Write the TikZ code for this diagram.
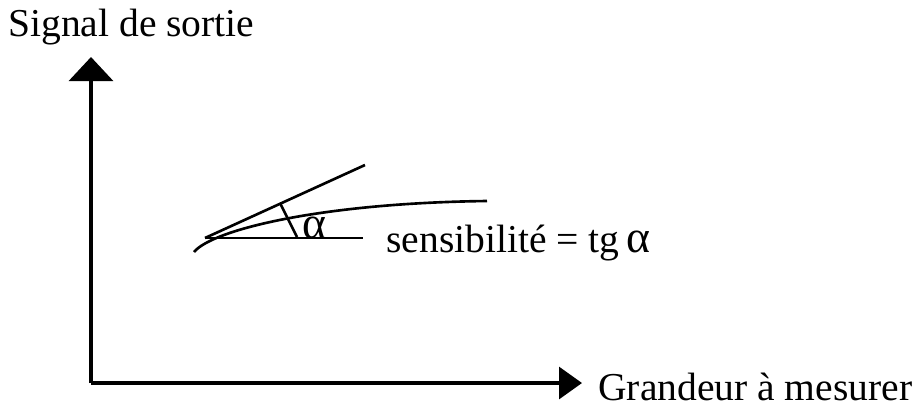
\documentclass[tikz,border=0pt]{standalone}
\usepackage{fontspec}
\setmainfont{Liberation Serif}
\usetikzlibrary{arrows.meta}
\tikzset{%
  axis/.style={line width=1.8pt},
  courbe/.style={line width=1.5pt},
  lbl/.style={inner sep=0pt,font=\fontsize{22.5pt}{26pt}\selectfont}
}

\begin{document}
\begin{tikzpicture}[x=0.02cm,y=-0.02cm]
  \useasboundingbox (0,0) rectangle (916,414);
  \coordinate (O) at (91,383);
  \coordinate (ytip) at (91,57);
  \coordinate (xtip) at (582,383);

  \draw[axis,-{Triangle[length=0.48cm,width=0.88cm]}] (O) -- (ytip);
  \draw[axis,-{Triangle[length=0.46cm,width=0.64cm]}] (O) -- (xtip);

  \node[lbl,anchor=base west] (ylab) at (8,36) {Signal de sortie};
  \node[lbl,anchor=base west] (xlab) at (598,400) {Grandeur à mesurer};

  % courbe et tangente
  \coordinate (P) at (205,238);
  \coordinate (T) at (365,165);
  \coordinate (H) at (363,238);
  \draw[courbe] (194,252) .. controls (212,230) and (320,203) .. (487,201);
  \draw[courbe] (P) -- (T);
  \draw[courbe] (P) -- (H);
  \draw[courbe] (280,203) -- (297,237);

  \node[lbl,anchor=base] (alpha) at (314,238) {\fontsize{26pt}{28pt}\selectfont α};
  \node[lbl,anchor=base west] (sens) at (386,252) {sensibilité = tg\,{\fontsize{26pt}{28pt}\selectfont α}};
\end{tikzpicture}
\end{document}
